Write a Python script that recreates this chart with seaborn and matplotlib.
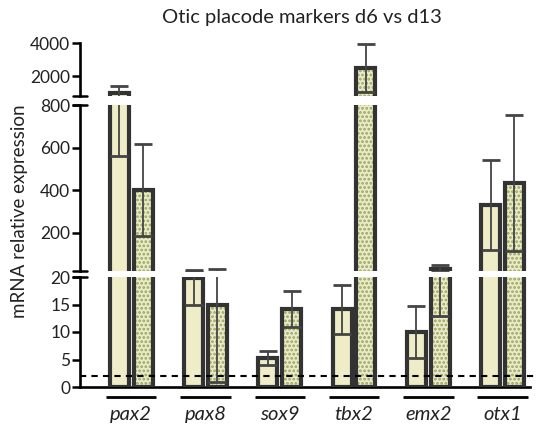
import matplotlib
matplotlib.use("Agg")
import matplotlib.pyplot as plt
import matplotlib.transforms as mtrans
from matplotlib.patches import Rectangle
import seaborn as sns
import pandas as pd
import numpy as np

genes = ["pax2", "pax8", "sox9", "tbx2", "emx2", "otx1"]
days = ["d6", "d13"]
d6_mean = [980, 19.8, 5.3, 14.1, 10.0, 330]
d6_err = [420, 4.8, 1.3, 4.4, 4.8, 210]
d13_mean = [400, 15.0, 14.2, 2500, 31, 435]
d13_err = [215, 14.0, 3.2, 1450, 18, 320]
threshold = 2
title = "Otic placode markers d6 vs d13"
ylabel = "mRNA relative expression"

segments = [(0, 20), (20, 800), (800, 4000)]
seg_ticks = [[0, 5, 10, 15, 20], [200, 400, 600, 800], [2000, 4000]]

sns.set_theme(style="ticks")
plt.rcParams["font.family"] = ["Lato", "DejaVu Sans"]
plt.rcParams["hatch.linewidth"] = 1.3

df = pd.DataFrame({
    "gene": genes * 2,
    "day": ["d6"] * len(genes) + ["d13"] * len(genes),
    "mean": d6_mean + d13_mean,
    "err": d6_err + d13_err,
})

W, H = 539, 428
fig = plt.figure(figsize=(W / 100, H / 100), dpi=100)

# pixel layout: (top, bottom) for each segment
pix = [(277, 387), (105, 271), (43, 96)]
left_px, right_px = 80, 530

dark = "#333333"
fill6 = "#f5f3c2"
fill13 = "#eef0c2"
hatchc = "#9ca25c"

axes = []
for i, ((lo, hi), (ptop, pbot)) in enumerate(zip(segments, pix)):
    ax = fig.add_axes([left_px / W, 1 - pbot / H, (right_px - left_px) / W, (pbot - ptop) / H])
    ax.set_facecolor("none")
    sns.barplot(data=df, x="gene", y="mean", hue="day", hue_order=days,
                palette=[fill6, fill13], width=0.64, gap=0.2, errorbar=None,
                legend=False, linewidth=0, ax=ax)
    for p in ax.containers[1]:
        p.set_hatch("....")
        p.set_edgecolor(hatchc)
        p.set_linewidth(0)
    # outlines and error bars (only where they reach this segment)
    for k, cont in enumerate(ax.containers[:2]):
        sub = df[df.day == days[k]]
        ys = sub["mean"].values
        es = sub["err"].values
        for p, y, e in zip(cont, ys, es):
            if y > lo:
                ax.add_patch(Rectangle(p.get_xy(), p.get_width(), p.get_height(),
                                       fill=False, edgecolor=dark, linewidth=3, zorder=3))
            if y + e > lo:
                ax.errorbar([p.get_x() + p.get_width() / 2], [y], yerr=[e], fmt="none",
                            ecolor="#444444", elinewidth=1.3, capsize=6.5, capthick=2,
                            zorder=4)
    ax.set_ylim(lo, hi)
    ax.set_xlim(-0.69, 5.37)
    ax.set_yticks(seg_ticks[i])
    ax.set_ylabel("")
    ax.set_xlabel("")
    ax.tick_params(axis="y", length=5.5, width=1.8, labelsize=12.5, pad=1.5,
                   color="black", labelcolor="#222222")
    for s in ["top", "right"]:
        ax.spines[s].set_visible(False)
    ax.spines["left"].set_linewidth(1.9)
    ax.spines["left"].set_color("black")
    if i == 0:
        ax.spines["bottom"].set_linewidth(1.9)
        ax.spines["bottom"].set_color("black")
        ax.tick_params(axis="x", length=0, pad=14)
        for lab in ax.get_xticklabels():
            lab.set_fontstyle("italic")
            lab.set_fontsize(14.5)
            lab.set_color("#222222")
        trans = mtrans.blended_transform_factory(ax.transData, ax.transAxes)
        for g in range(len(genes)):
            ax.plot([g - 0.34, g + 0.34], [-0.09, -0.09], transform=trans,
                    color="black", lw=2, clip_on=False, solid_capstyle="butt")
        ax.axhline(threshold, xmin=0, xmax=(537 - left_px) / (right_px - left_px),
                   color="black", lw=1.5, dashes=(3, 2.5), clip_on=False, zorder=6)
    else:
        ax.spines["bottom"].set_visible(False)
        ax.tick_params(axis="x", bottom=False, labelbottom=False)
    # break marks
    if i < 2:
        ax.plot([-0.016, 0.016], [1, 1], transform=ax.transAxes, color="black",
                lw=1.8, clip_on=False)
    if i > 0:
        ax.plot([-0.016, 0.016], [0, 0], transform=ax.transAxes, color="black",
                lw=1.8, clip_on=False)
    axes.append(ax)

fig.text(302 / W, 1 - 18 / H, title, ha="center", va="center", fontsize=14.5, color="#222222")
fig.text(20 / W, 1 - 211 / H, ylabel, ha="center", va="center", rotation=90,
         fontsize=13.5, color="#222222")

fig.savefig("out.png", dpi=100)
